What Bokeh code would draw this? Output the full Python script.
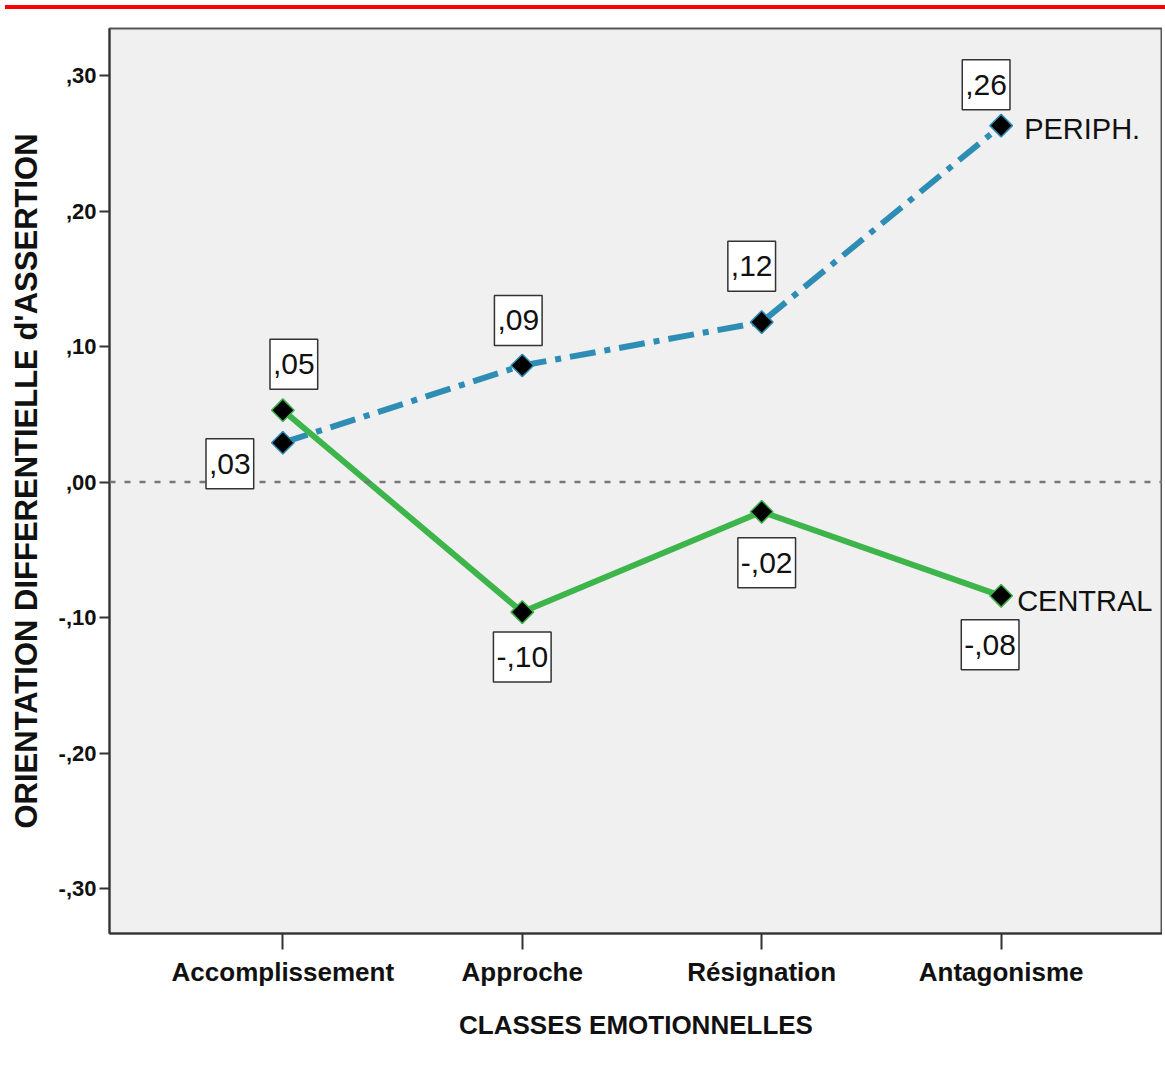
import numpy as np
from bokeh.plotting import figure
from bokeh.models import FixedTicker, Span, Label, Div, Range1d
from bokeh.layouts import column
from bokeh.embed import file_html
from bokeh.resources import INLINE

# ---- data ----
categories = ["Accomplissement", "Approche", "Résignation", "Antagonisme"]
periph = [0.029, 0.086, 0.118, 0.263]
central = [0.053, -0.096, -0.022, -0.084]
series_names = ["PERIPH.", "CENTRAL"]
y_ticks = [-0.30, -0.20, -0.10, 0.00, 0.10, 0.20, 0.30]
y_tick_labels = ["-,30", "-,20", "-,10", ",00", ",10", ",20", ",30"]
x_title = "CLASSES EMOTIONNELLES"
y_title = "ORIENTATION DIFFERENTIELLE d'ASSERTION"

# label box offsets (screen px) relative to each point
periph_offsets = [(-53, -21), (-4, 45), (-10, 56), (-15, 41)]
central_offsets = [(11, 46), (0, -45), (5, -51), (-11, -49)]

BLUE = "#2E8DB4"
GREEN = "#3DB54A"
FONT = "Liberation Sans"


def spss(v):
    return f"{v:.2f}".replace("0.", ",", 1)


xs = list(range(len(categories)))

p = figure(width=1162, height=1045,
           x_range=Range1d(-0.724, 3.674), y_range=Range1d(-0.3332, 0.3347),
           output_backend="svg", toolbar_location=None,
           min_border_left=109, min_border_right=0,
           min_border_top=14, min_border_bottom=126)
p.background_fill_color = "#f0f0f0"
p.border_fill_color = "white"
p.outline_line_color = "#555555"
p.outline_line_width = 2
p.grid.visible = False

# axes
p.xaxis.ticker = FixedTicker(ticks=xs)
p.xaxis.major_label_overrides = {i: c for i, c in zip(xs, categories)}
p.yaxis.ticker = FixedTicker(ticks=y_ticks)
p.yaxis.major_label_overrides = dict(zip(y_ticks, y_tick_labels))

for ax in (p.xaxis, p.yaxis):
    ax.axis_line_color = "#333333"
    ax.axis_line_width = 2
    ax.major_tick_line_color = "#333333"
    ax.major_tick_line_width = 2
    ax.major_tick_in = 0
    ax.minor_tick_in = 0
    ax.minor_tick_out = 0
    ax.major_label_text_font = FONT
    ax.major_label_text_font_style = "bold"
    ax.major_label_text_color = "#111111"
    ax.axis_label_text_font = FONT
    ax.axis_label_text_font_style = "bold"
    ax.axis_label_text_color = "#111111"

p.xaxis.major_tick_out = 16
p.xaxis.major_label_standoff = 7
p.xaxis.major_label_text_font_size = "26px"
p.xaxis.axis_label = x_title
p.xaxis.axis_label_text_font_size = "26px"
p.xaxis.axis_label_standoff = 20

p.yaxis.major_tick_out = 10
p.yaxis.major_label_standoff = 3
p.yaxis.major_label_text_font_size = "22px"
p.yaxis.axis_label = y_title
p.yaxis.axis_label_text_font_size = "31px"
p.yaxis.axis_label_standoff = 12

# zero reference line
p.add_layout(Span(location=0, dimension="width", line_color="#777777",
                  line_dash="6 9", line_width=2.5))

# lines
p.line(xs, periph, line_color=BLUE, line_width=6, line_dash="26 9 6 9")
p.line(xs, central, line_color=GREEN, line_width=6)

# markers
p.scatter(xs, periph, marker="square", angle=np.pi / 4, size=16,
          fill_color="black", line_color=BLUE, line_width=1.5)
p.scatter(xs, central, marker="square", angle=np.pi / 4, size=16,
          fill_color="black", line_color=GREEN, line_width=1.5)

# value labels
for vals, offs in ((periph, periph_offsets), (central, central_offsets)):
    for x, v, (dx, dy) in zip(xs, vals, offs):
        p.add_layout(Label(x=x, y=v, x_offset=dx, y_offset=dy, text=spss(v),
                           text_align="center", text_baseline="middle",
                           text_font=FONT, text_font_size="30px",
                           text_color="#111111",
                           background_fill_color="white",
                           border_line_color="#333333", border_line_width=1.5,
                           padding=(3, 15)))

# series names
p.add_layout(Label(x=xs[-1], y=periph[-1], x_offset=23, y_offset=-3,
                   text=series_names[0], text_align="left",
                   text_baseline="middle", text_font=FONT,
                   text_font_size="29px", text_color="#111111"))
p.add_layout(Label(x=xs[-1], y=central[-1], x_offset=16, y_offset=-5,
                   text=series_names[1], text_align="left",
                   text_baseline="middle", text_font=FONT,
                   text_font_size="29px", text_color="#111111"))

bar = Div(text="", width=1162, height=4, styles={"background-color": "#ff0000"})
layout = column(bar, p)

open("out.html", "w").write(file_html(layout, INLINE))
